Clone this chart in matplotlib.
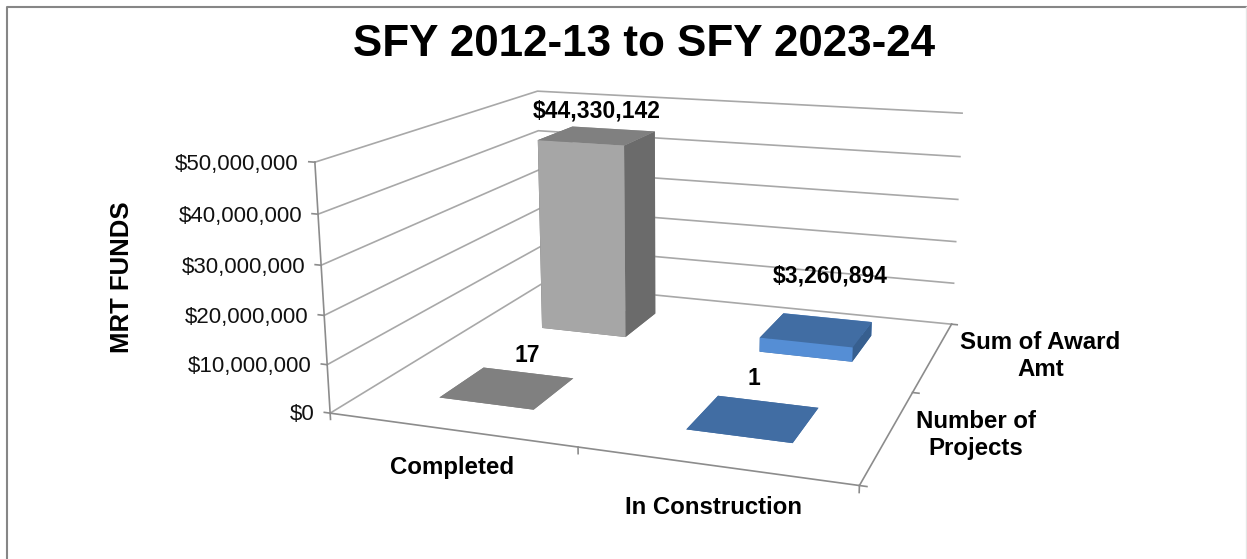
import matplotlib
matplotlib.use('Agg')
import matplotlib.pyplot as plt
from matplotlib.lines import Line2D
from mpl_toolkits.mplot3d import proj3d

plt.rcParams['font.family'] = ['Liberation Sans', 'DejaVu Sans']

W, H = 1247, 559

# chart data
statuses = ['Completed', 'In Construction']
series_names = ['Number of\nProjects', 'Sum of Award\nAmt']
number_of_projects = [17, 1]
sum_of_award = [44330142, 3260894]
axis_ticks = [0, 10000000, 20000000, 30000000, 40000000, 50000000]

fig = plt.figure(figsize=(W/100, H/100), dpi=100)
fig.patch.set_facecolor('white')

# axes size and camera found by fitting the box corners to the picture
side = 706.27
ax = fig.add_axes([306.31/W, -55.97/H, side/W, side/H], projection='3d')
ax.view_init(elev=14.341, azim=-70.434)
ax.set_proj_type('persp', focal_length=0.3839)
ax.set_box_aspect((2.1082, 2.0033, 1))
ax.computed_zorder = False
ax.set_axis_off()
ax.set_xlim(0, 2)
ax.set_ylim(0, 2)
ax.set_zlim(0, 50000000)

grid_color = '#a8a8a8'
axis_color = '#8c8c8c'


# Put a flat text where a 3d point lands
def label_at(x, y, z, text, **kw):
    px, py, _ = proj3d.proj_transform(x, y, z, ax.get_proj())
    ax.text2D(px, py, text, transform=ax.transData, **kw)


# grid lines on the left and back walls
for z in axis_ticks:
    ax.plot([0, 0, 2], [0, 2, 2], [z, z, z], color=grid_color, lw=1.2, zorder=1)
    ax.plot([-0.025, 0], [0, 0], [z, z], color=axis_color, lw=1.2, zorder=1)
    label_at(-0.068, 0, z - 700000, '${:,}'.format(z), ha='right', va='center', fontsize=16, color='#111111', zorder=4)

# axis lines and their ticks
ax.plot([0, 0], [0, 0], [0, axis_ticks[-1]], color=axis_color, lw=1.2, zorder=1)
ax.plot([0, 2, 2], [0, 0, 2], [0, 0, 0], color=axis_color, lw=1.2, zorder=1)
for x in [0, 1, 2]:
    ax.plot([x, x], [0, 0], [0, -1300000], color=axis_color, lw=1.2, zorder=1)
for y in [0, 1, 2]:
    ax.plot([2, 2.025], [y, y], [0, 0], color=axis_color, lw=1.2, zorder=1)

# bars: faces go bottom, top, front, back, left, right
grey_faces = ['#808080', '#808080', '#a6a6a6', '#a6a6a6', '#6b6b6b', '#6b6b6b']
blue_faces = ['#416da3', '#416da3', '#558ed5', '#558ed5', '#375f8f', '#375f8f']
colors = [grey_faces, blue_faces]
margin = 0.302
width = 1 - 2*margin
for i in range(2):
    ax.bar3d(i + margin, margin, 0, width, width, number_of_projects[i], color=colors[i], shade=False, zorder=2)
    ax.bar3d(i + margin, 1 + margin, 0, width, width, sum_of_award[i], color=colors[i], shade=False, zorder=3)

# data labels
value_font = dict(ha='center', va='center', fontsize=16.5, fontweight='bold', color='black', zorder=5)
label_at(0.5, 1.5, sum_of_award[0] + 5600000, '${:,}'.format(sum_of_award[0]), **value_font)
label_at(1.55, 1.5, sum_of_award[1] + 12800000, '${:,}'.format(sum_of_award[1]), **value_font)
label_at(0.59, 0.5, number_of_projects[0] + 7600000, str(number_of_projects[0]), **value_font)
label_at(1.5, 0.5, number_of_projects[1] + 8200000, str(number_of_projects[1]), **value_font)

# category labels
cat_font = dict(ha='center', va='center', fontsize=17.3, fontweight='bold', color='black', zorder=5, linespacing=1.2)
label_at(0.5, 0, -7800000, statuses[0], **cat_font)
label_at(1.5, 0, -8000000, statuses[1], **cat_font)
label_at(2.295, 0.612, 0, series_names[0], **cat_font)
label_at(2.42, 1.66, 0, series_names[1], **cat_font)

fig.text(644/W, 1 - 44/H, 'SFY 2012-13 to SFY 2023-24', ha='center', va='center', fontsize=31.7, fontweight='bold', color='black')
fig.text(122/W, 1 - 277/H, 'MRT FUNDS', rotation=90, ha='center', va='center', fontsize=18.5, fontweight='bold', color='black')

# chart frame, only the left and top sides show in the picture
fig.add_artist(Line2D([7/W, 7/W, 1], [0, 1 - 7/H, 1 - 7/H], color='#868686', lw=1.5, transform=fig.transFigure))
fig.add_artist(Line2D([1246/W, 1246/W], [0, 1 - 7/H], color='#e6e6e6', lw=1, transform=fig.transFigure))

fig.savefig('out.png', dpi=100)
